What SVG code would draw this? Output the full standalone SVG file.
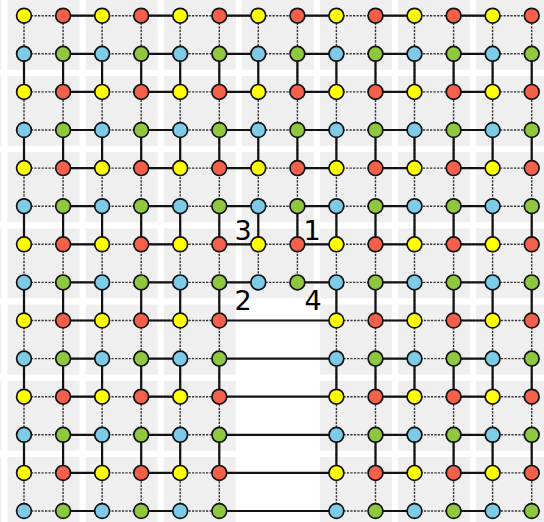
<svg xmlns="http://www.w3.org/2000/svg" width="544" height="522" viewBox="0 0 544 522">
<style>
circle{stroke:#111;stroke-width:1.7}
.y{fill:#ffff00}.r{fill:#f4604a}.g{fill:#8fc73e}.b{fill:#7ecbe8}
.dash{fill:none;stroke:#333;stroke-width:1.4;stroke-dasharray:2.2 1.3}
.solid{fill:none;stroke:#111;stroke-width:2.2}
.lbl{font-family:"DejaVu Sans","Liberation Sans",sans-serif;font-size:27px;fill:#000;text-anchor:middle}
</style>
<defs>
<pattern id="tiles" patternUnits="userSpaceOnUse" x="7.5" y="-0.25" width="78.1" height="76.2">
<rect x="0" y="0" width="72" height="70" fill="#efefef"/>
</pattern>
</defs>
<g id="background">
<rect x="0" y="0" width="544" height="522" fill="#ffffff"/>
<rect x="0" y="0" width="544" height="522" fill="url(#tiles)"/>
<rect x="241" y="303" width="74" height="219" fill="#ffffff"/>
</g>
<g id="connectors">
<path class="dash" d="M24 15.7H531.7M24 53.8H531.7M24 91.9H531.7M24 130H531.7M24 168.1H531.7M24 206.2H531.7M24 244.3H531.7M24 282.4H531.7M24 320.5H219.3M336.4 320.5H531.7M24 358.6H219.3M336.4 358.6H531.7M24 396.7H219.3M336.4 396.7H531.7M24 434.8H219.3M336.4 434.8H531.7M24 472.9H219.3M336.4 472.9H531.7M24 511H219.3M336.4 511H531.7"/>
<path class="dash" d="M24 15.7V511M63.1 15.7V511M102.1 15.7V511M141.2 15.7V511M180.2 15.7V511M219.3 15.7V511M258.3 15.7V282.4M297.4 15.7V282.4M336.4 15.7V511M375.5 15.7V511M414.5 15.7V511M453.6 15.7V511M492.6 15.7V511M531.7 15.7V511"/>
<path class="solid" d="M63.1 15.7H102.1M141.2 15.7H180.2M219.3 15.7H258.3M297.4 15.7H336.4M375.5 15.7H414.5M453.6 15.7H492.6
M63.1 53.8H102.1M141.2 53.8H180.2M219.3 53.8H258.3M297.4 53.8H336.4M375.5 53.8H414.5M453.6 53.8H492.6
M63.1 91.9H102.1M141.2 91.9H180.2M219.3 91.9H258.3M297.4 91.9H336.4M375.5 91.9H414.5M453.6 91.9H492.6
M63.1 130H102.1M141.2 130H180.2M219.3 130H258.3M297.4 130H336.4M375.5 130H414.5M453.6 130H492.6
M63.1 168.1H102.1M141.2 168.1H180.2M219.3 168.1H258.3M297.4 168.1H336.4M375.5 168.1H414.5M453.6 168.1H492.6
M63.1 206.2H102.1M141.2 206.2H180.2M219.3 206.2H258.3M297.4 206.2H336.4M375.5 206.2H414.5M453.6 206.2H492.6
M63.1 244.3H102.1M141.2 244.3H180.2M219.3 244.3H258.3M297.4 244.3H336.4M375.5 244.3H414.5M453.6 244.3H492.6
M63.1 282.4H102.1M141.2 282.4H180.2M219.3 282.4H258.3M297.4 282.4H336.4M375.5 282.4H414.5M453.6 282.4H492.6
M63.1 320.5H102.1M141.2 320.5H180.2M219.3 320.5H336.4M375.5 320.5H414.5M453.6 320.5H492.6
M63.1 358.6H102.1M141.2 358.6H180.2M219.3 358.6H336.4M375.5 358.6H414.5M453.6 358.6H492.6
M63.1 396.7H102.1M141.2 396.7H180.2M219.3 396.7H336.4M375.5 396.7H414.5M453.6 396.7H492.6
M63.1 434.8H102.1M141.2 434.8H180.2M219.3 434.8H336.4M375.5 434.8H414.5M453.6 434.8H492.6
M63.1 472.9H102.1M141.2 472.9H180.2M219.3 472.9H336.4M375.5 472.9H414.5M453.6 472.9H492.6
M63.1 511H102.1M141.2 511H180.2M219.3 511H336.4M375.5 511H414.5M453.6 511H492.6"/>
<path class="solid" d="M24 53.8V91.9M24 130V168.1M24 206.2V244.3M24 282.4V320.5M24 358.6V396.7M24 434.8V472.9
M63.1 53.8V91.9M63.1 130V168.1M63.1 206.2V244.3M63.1 282.4V320.5M63.1 358.6V396.7M63.1 434.8V472.9
M102.1 53.8V91.9M102.1 130V168.1M102.1 206.2V244.3M102.1 282.4V320.5M102.1 358.6V396.7M102.1 434.8V472.9
M141.2 53.8V91.9M141.2 130V168.1M141.2 206.2V244.3M141.2 282.4V320.5M141.2 358.6V396.7M141.2 434.8V472.9
M180.2 53.8V91.9M180.2 130V168.1M180.2 206.2V244.3M180.2 282.4V320.5M180.2 358.6V396.7M180.2 434.8V472.9
M219.3 53.8V91.9M219.3 130V168.1M219.3 206.2V244.3M219.3 282.4V320.5M219.3 358.6V396.7M219.3 434.8V472.9
M258.3 53.8V91.9M258.3 130V168.1M258.3 206.2V244.3
M297.4 53.8V91.9M297.4 130V168.1M297.4 206.2V244.3
M336.4 53.8V91.9M336.4 130V168.1M336.4 206.2V244.3M336.4 282.4V320.5M336.4 358.6V396.7M336.4 434.8V472.9
M375.5 53.8V91.9M375.5 130V168.1M375.5 206.2V244.3M375.5 282.4V320.5M375.5 358.6V396.7M375.5 434.8V472.9
M414.5 53.8V91.9M414.5 130V168.1M414.5 206.2V244.3M414.5 282.4V320.5M414.5 358.6V396.7M414.5 434.8V472.9
M453.6 53.8V91.9M453.6 130V168.1M453.6 206.2V244.3M453.6 282.4V320.5M453.6 358.6V396.7M453.6 434.8V472.9
M492.6 53.8V91.9M492.6 130V168.1M492.6 206.2V244.3M492.6 282.4V320.5M492.6 358.6V396.7M492.6 434.8V472.9
M531.7 53.8V91.9M531.7 130V168.1M531.7 206.2V244.3M531.7 282.4V320.5M531.7 358.6V396.7M531.7 434.8V472.9"/>
</g>
<g id="nodes">
<g id="n0-0"><circle class="y" cx="24" cy="15.7" r="7.4"/></g>
<g id="n0-1"><circle class="r" cx="63.1" cy="15.7" r="7.4"/></g>
<g id="n0-2"><circle class="y" cx="102.1" cy="15.7" r="7.4"/></g>
<g id="n0-3"><circle class="r" cx="141.2" cy="15.7" r="7.4"/></g>
<g id="n0-4"><circle class="y" cx="180.2" cy="15.7" r="7.4"/></g>
<g id="n0-5"><circle class="r" cx="219.3" cy="15.7" r="7.4"/></g>
<g id="n0-6"><circle class="y" cx="258.3" cy="15.7" r="7.4"/></g>
<g id="n0-7"><circle class="r" cx="297.4" cy="15.7" r="7.4"/></g>
<g id="n0-8"><circle class="y" cx="336.4" cy="15.7" r="7.4"/></g>
<g id="n0-9"><circle class="r" cx="375.5" cy="15.7" r="7.4"/></g>
<g id="n0-10"><circle class="y" cx="414.5" cy="15.7" r="7.4"/></g>
<g id="n0-11"><circle class="r" cx="453.6" cy="15.7" r="7.4"/></g>
<g id="n0-12"><circle class="y" cx="492.6" cy="15.7" r="7.4"/></g>
<g id="n0-13"><circle class="r" cx="531.7" cy="15.7" r="7.4"/></g>
<g id="n1-0"><circle class="b" cx="24" cy="53.8" r="7.4"/></g>
<g id="n1-1"><circle class="g" cx="63.1" cy="53.8" r="7.4"/></g>
<g id="n1-2"><circle class="b" cx="102.1" cy="53.8" r="7.4"/></g>
<g id="n1-3"><circle class="g" cx="141.2" cy="53.8" r="7.4"/></g>
<g id="n1-4"><circle class="b" cx="180.2" cy="53.8" r="7.4"/></g>
<g id="n1-5"><circle class="g" cx="219.3" cy="53.8" r="7.4"/></g>
<g id="n1-6"><circle class="b" cx="258.3" cy="53.8" r="7.4"/></g>
<g id="n1-7"><circle class="g" cx="297.4" cy="53.8" r="7.4"/></g>
<g id="n1-8"><circle class="b" cx="336.4" cy="53.8" r="7.4"/></g>
<g id="n1-9"><circle class="g" cx="375.5" cy="53.8" r="7.4"/></g>
<g id="n1-10"><circle class="b" cx="414.5" cy="53.8" r="7.4"/></g>
<g id="n1-11"><circle class="g" cx="453.6" cy="53.8" r="7.4"/></g>
<g id="n1-12"><circle class="b" cx="492.6" cy="53.8" r="7.4"/></g>
<g id="n1-13"><circle class="g" cx="531.7" cy="53.8" r="7.4"/></g>
<g id="n2-0"><circle class="y" cx="24" cy="91.9" r="7.4"/></g>
<g id="n2-1"><circle class="r" cx="63.1" cy="91.9" r="7.4"/></g>
<g id="n2-2"><circle class="y" cx="102.1" cy="91.9" r="7.4"/></g>
<g id="n2-3"><circle class="r" cx="141.2" cy="91.9" r="7.4"/></g>
<g id="n2-4"><circle class="y" cx="180.2" cy="91.9" r="7.4"/></g>
<g id="n2-5"><circle class="r" cx="219.3" cy="91.9" r="7.4"/></g>
<g id="n2-6"><circle class="y" cx="258.3" cy="91.9" r="7.4"/></g>
<g id="n2-7"><circle class="r" cx="297.4" cy="91.9" r="7.4"/></g>
<g id="n2-8"><circle class="y" cx="336.4" cy="91.9" r="7.4"/></g>
<g id="n2-9"><circle class="r" cx="375.5" cy="91.9" r="7.4"/></g>
<g id="n2-10"><circle class="y" cx="414.5" cy="91.9" r="7.4"/></g>
<g id="n2-11"><circle class="r" cx="453.6" cy="91.9" r="7.4"/></g>
<g id="n2-12"><circle class="y" cx="492.6" cy="91.9" r="7.4"/></g>
<g id="n2-13"><circle class="r" cx="531.7" cy="91.9" r="7.4"/></g>
<g id="n3-0"><circle class="b" cx="24" cy="130" r="7.4"/></g>
<g id="n3-1"><circle class="g" cx="63.1" cy="130" r="7.4"/></g>
<g id="n3-2"><circle class="b" cx="102.1" cy="130" r="7.4"/></g>
<g id="n3-3"><circle class="g" cx="141.2" cy="130" r="7.4"/></g>
<g id="n3-4"><circle class="b" cx="180.2" cy="130" r="7.4"/></g>
<g id="n3-5"><circle class="g" cx="219.3" cy="130" r="7.4"/></g>
<g id="n3-6"><circle class="b" cx="258.3" cy="130" r="7.4"/></g>
<g id="n3-7"><circle class="g" cx="297.4" cy="130" r="7.4"/></g>
<g id="n3-8"><circle class="b" cx="336.4" cy="130" r="7.4"/></g>
<g id="n3-9"><circle class="g" cx="375.5" cy="130" r="7.4"/></g>
<g id="n3-10"><circle class="b" cx="414.5" cy="130" r="7.4"/></g>
<g id="n3-11"><circle class="g" cx="453.6" cy="130" r="7.4"/></g>
<g id="n3-12"><circle class="b" cx="492.6" cy="130" r="7.4"/></g>
<g id="n3-13"><circle class="g" cx="531.7" cy="130" r="7.4"/></g>
<g id="n4-0"><circle class="y" cx="24" cy="168.1" r="7.4"/></g>
<g id="n4-1"><circle class="r" cx="63.1" cy="168.1" r="7.4"/></g>
<g id="n4-2"><circle class="y" cx="102.1" cy="168.1" r="7.4"/></g>
<g id="n4-3"><circle class="r" cx="141.2" cy="168.1" r="7.4"/></g>
<g id="n4-4"><circle class="y" cx="180.2" cy="168.1" r="7.4"/></g>
<g id="n4-5"><circle class="r" cx="219.3" cy="168.1" r="7.4"/></g>
<g id="n4-6"><circle class="y" cx="258.3" cy="168.1" r="7.4"/></g>
<g id="n4-7"><circle class="r" cx="297.4" cy="168.1" r="7.4"/></g>
<g id="n4-8"><circle class="y" cx="336.4" cy="168.1" r="7.4"/></g>
<g id="n4-9"><circle class="r" cx="375.5" cy="168.1" r="7.4"/></g>
<g id="n4-10"><circle class="y" cx="414.5" cy="168.1" r="7.4"/></g>
<g id="n4-11"><circle class="r" cx="453.6" cy="168.1" r="7.4"/></g>
<g id="n4-12"><circle class="y" cx="492.6" cy="168.1" r="7.4"/></g>
<g id="n4-13"><circle class="r" cx="531.7" cy="168.1" r="7.4"/></g>
<g id="n5-0"><circle class="b" cx="24" cy="206.2" r="7.4"/></g>
<g id="n5-1"><circle class="g" cx="63.1" cy="206.2" r="7.4"/></g>
<g id="n5-2"><circle class="b" cx="102.1" cy="206.2" r="7.4"/></g>
<g id="n5-3"><circle class="g" cx="141.2" cy="206.2" r="7.4"/></g>
<g id="n5-4"><circle class="b" cx="180.2" cy="206.2" r="7.4"/></g>
<g id="n5-5"><circle class="g" cx="219.3" cy="206.2" r="7.4"/></g>
<g id="n5-6"><circle class="b" cx="258.3" cy="206.2" r="7.4"/></g>
<g id="n5-7"><circle class="g" cx="297.4" cy="206.2" r="7.4"/></g>
<g id="n5-8"><circle class="b" cx="336.4" cy="206.2" r="7.4"/></g>
<g id="n5-9"><circle class="g" cx="375.5" cy="206.2" r="7.4"/></g>
<g id="n5-10"><circle class="b" cx="414.5" cy="206.2" r="7.4"/></g>
<g id="n5-11"><circle class="g" cx="453.6" cy="206.2" r="7.4"/></g>
<g id="n5-12"><circle class="b" cx="492.6" cy="206.2" r="7.4"/></g>
<g id="n5-13"><circle class="g" cx="531.7" cy="206.2" r="7.4"/></g>
<g id="n6-0"><circle class="y" cx="24" cy="244.3" r="7.4"/></g>
<g id="n6-1"><circle class="r" cx="63.1" cy="244.3" r="7.4"/></g>
<g id="n6-2"><circle class="y" cx="102.1" cy="244.3" r="7.4"/></g>
<g id="n6-3"><circle class="r" cx="141.2" cy="244.3" r="7.4"/></g>
<g id="n6-4"><circle class="y" cx="180.2" cy="244.3" r="7.4"/></g>
<g id="n6-5"><circle class="r" cx="219.3" cy="244.3" r="7.4"/></g>
<g id="n6-6"><circle class="y" cx="258.3" cy="244.3" r="7.4"/></g>
<g id="n6-7"><circle class="r" cx="297.4" cy="244.3" r="7.4"/></g>
<g id="n6-8"><circle class="y" cx="336.4" cy="244.3" r="7.4"/></g>
<g id="n6-9"><circle class="r" cx="375.5" cy="244.3" r="7.4"/></g>
<g id="n6-10"><circle class="y" cx="414.5" cy="244.3" r="7.4"/></g>
<g id="n6-11"><circle class="r" cx="453.6" cy="244.3" r="7.4"/></g>
<g id="n6-12"><circle class="y" cx="492.6" cy="244.3" r="7.4"/></g>
<g id="n6-13"><circle class="r" cx="531.7" cy="244.3" r="7.4"/></g>
<g id="n7-0"><circle class="b" cx="24" cy="282.4" r="7.4"/></g>
<g id="n7-1"><circle class="g" cx="63.1" cy="282.4" r="7.4"/></g>
<g id="n7-2"><circle class="b" cx="102.1" cy="282.4" r="7.4"/></g>
<g id="n7-3"><circle class="g" cx="141.2" cy="282.4" r="7.4"/></g>
<g id="n7-4"><circle class="b" cx="180.2" cy="282.4" r="7.4"/></g>
<g id="n7-5"><circle class="g" cx="219.3" cy="282.4" r="7.4"/></g>
<g id="n7-6"><circle class="b" cx="258.3" cy="282.4" r="7.4"/></g>
<g id="n7-7"><circle class="g" cx="297.4" cy="282.4" r="7.4"/></g>
<g id="n7-8"><circle class="b" cx="336.4" cy="282.4" r="7.4"/></g>
<g id="n7-9"><circle class="g" cx="375.5" cy="282.4" r="7.4"/></g>
<g id="n7-10"><circle class="b" cx="414.5" cy="282.4" r="7.4"/></g>
<g id="n7-11"><circle class="g" cx="453.6" cy="282.4" r="7.4"/></g>
<g id="n7-12"><circle class="b" cx="492.6" cy="282.4" r="7.4"/></g>
<g id="n7-13"><circle class="g" cx="531.7" cy="282.4" r="7.4"/></g>
<g id="n8-0"><circle class="y" cx="24" cy="320.5" r="7.4"/></g>
<g id="n8-1"><circle class="r" cx="63.1" cy="320.5" r="7.4"/></g>
<g id="n8-2"><circle class="y" cx="102.1" cy="320.5" r="7.4"/></g>
<g id="n8-3"><circle class="r" cx="141.2" cy="320.5" r="7.4"/></g>
<g id="n8-4"><circle class="y" cx="180.2" cy="320.5" r="7.4"/></g>
<g id="n8-5"><circle class="r" cx="219.3" cy="320.5" r="7.4"/></g>
<g id="n8-8"><circle class="y" cx="336.4" cy="320.5" r="7.4"/></g>
<g id="n8-9"><circle class="r" cx="375.5" cy="320.5" r="7.4"/></g>
<g id="n8-10"><circle class="y" cx="414.5" cy="320.5" r="7.4"/></g>
<g id="n8-11"><circle class="r" cx="453.6" cy="320.5" r="7.4"/></g>
<g id="n8-12"><circle class="y" cx="492.6" cy="320.5" r="7.4"/></g>
<g id="n8-13"><circle class="r" cx="531.7" cy="320.5" r="7.4"/></g>
<g id="n9-0"><circle class="b" cx="24" cy="358.6" r="7.4"/></g>
<g id="n9-1"><circle class="g" cx="63.1" cy="358.6" r="7.4"/></g>
<g id="n9-2"><circle class="b" cx="102.1" cy="358.6" r="7.4"/></g>
<g id="n9-3"><circle class="g" cx="141.2" cy="358.6" r="7.4"/></g>
<g id="n9-4"><circle class="b" cx="180.2" cy="358.6" r="7.4"/></g>
<g id="n9-5"><circle class="g" cx="219.3" cy="358.6" r="7.4"/></g>
<g id="n9-8"><circle class="b" cx="336.4" cy="358.6" r="7.4"/></g>
<g id="n9-9"><circle class="g" cx="375.5" cy="358.6" r="7.4"/></g>
<g id="n9-10"><circle class="b" cx="414.5" cy="358.6" r="7.4"/></g>
<g id="n9-11"><circle class="g" cx="453.6" cy="358.6" r="7.4"/></g>
<g id="n9-12"><circle class="b" cx="492.6" cy="358.6" r="7.4"/></g>
<g id="n9-13"><circle class="g" cx="531.7" cy="358.6" r="7.4"/></g>
<g id="n10-0"><circle class="y" cx="24" cy="396.7" r="7.4"/></g>
<g id="n10-1"><circle class="r" cx="63.1" cy="396.7" r="7.4"/></g>
<g id="n10-2"><circle class="y" cx="102.1" cy="396.7" r="7.4"/></g>
<g id="n10-3"><circle class="r" cx="141.2" cy="396.7" r="7.4"/></g>
<g id="n10-4"><circle class="y" cx="180.2" cy="396.7" r="7.4"/></g>
<g id="n10-5"><circle class="r" cx="219.3" cy="396.7" r="7.4"/></g>
<g id="n10-8"><circle class="y" cx="336.4" cy="396.7" r="7.4"/></g>
<g id="n10-9"><circle class="r" cx="375.5" cy="396.7" r="7.4"/></g>
<g id="n10-10"><circle class="y" cx="414.5" cy="396.7" r="7.4"/></g>
<g id="n10-11"><circle class="r" cx="453.6" cy="396.7" r="7.4"/></g>
<g id="n10-12"><circle class="y" cx="492.6" cy="396.7" r="7.4"/></g>
<g id="n10-13"><circle class="r" cx="531.7" cy="396.7" r="7.4"/></g>
<g id="n11-0"><circle class="b" cx="24" cy="434.8" r="7.4"/></g>
<g id="n11-1"><circle class="g" cx="63.1" cy="434.8" r="7.4"/></g>
<g id="n11-2"><circle class="b" cx="102.1" cy="434.8" r="7.4"/></g>
<g id="n11-3"><circle class="g" cx="141.2" cy="434.8" r="7.4"/></g>
<g id="n11-4"><circle class="b" cx="180.2" cy="434.8" r="7.4"/></g>
<g id="n11-5"><circle class="g" cx="219.3" cy="434.8" r="7.4"/></g>
<g id="n11-8"><circle class="b" cx="336.4" cy="434.8" r="7.4"/></g>
<g id="n11-9"><circle class="g" cx="375.5" cy="434.8" r="7.4"/></g>
<g id="n11-10"><circle class="b" cx="414.5" cy="434.8" r="7.4"/></g>
<g id="n11-11"><circle class="g" cx="453.6" cy="434.8" r="7.4"/></g>
<g id="n11-12"><circle class="b" cx="492.6" cy="434.8" r="7.4"/></g>
<g id="n11-13"><circle class="g" cx="531.7" cy="434.8" r="7.4"/></g>
<g id="n12-0"><circle class="y" cx="24" cy="472.9" r="7.4"/></g>
<g id="n12-1"><circle class="r" cx="63.1" cy="472.9" r="7.4"/></g>
<g id="n12-2"><circle class="y" cx="102.1" cy="472.9" r="7.4"/></g>
<g id="n12-3"><circle class="r" cx="141.2" cy="472.9" r="7.4"/></g>
<g id="n12-4"><circle class="y" cx="180.2" cy="472.9" r="7.4"/></g>
<g id="n12-5"><circle class="r" cx="219.3" cy="472.9" r="7.4"/></g>
<g id="n12-8"><circle class="y" cx="336.4" cy="472.9" r="7.4"/></g>
<g id="n12-9"><circle class="r" cx="375.5" cy="472.9" r="7.4"/></g>
<g id="n12-10"><circle class="y" cx="414.5" cy="472.9" r="7.4"/></g>
<g id="n12-11"><circle class="r" cx="453.6" cy="472.9" r="7.4"/></g>
<g id="n12-12"><circle class="y" cx="492.6" cy="472.9" r="7.4"/></g>
<g id="n12-13"><circle class="r" cx="531.7" cy="472.9" r="7.4"/></g>
<g id="n13-0"><circle class="b" cx="24" cy="511" r="7.4"/></g>
<g id="n13-1"><circle class="g" cx="63.1" cy="511" r="7.4"/></g>
<g id="n13-2"><circle class="b" cx="102.1" cy="511" r="7.4"/></g>
<g id="n13-3"><circle class="g" cx="141.2" cy="511" r="7.4"/></g>
<g id="n13-4"><circle class="b" cx="180.2" cy="511" r="7.4"/></g>
<g id="n13-5"><circle class="g" cx="219.3" cy="511" r="7.4"/></g>
<g id="n13-8"><circle class="b" cx="336.4" cy="511" r="7.4"/></g>
<g id="n13-9"><circle class="g" cx="375.5" cy="511" r="7.4"/></g>
<g id="n13-10"><circle class="b" cx="414.5" cy="511" r="7.4"/></g>
<g id="n13-11"><circle class="g" cx="453.6" cy="511" r="7.4"/></g>
<g id="n13-12"><circle class="b" cx="492.6" cy="511" r="7.4"/></g>
<g id="n13-13"><circle class="g" cx="531.7" cy="511" r="7.4"/></g>
</g>
<g id="labels">
<text class="lbl" x="243" y="240">3</text>
<text class="lbl" x="312" y="240">1</text>
<text class="lbl" x="243" y="310">2</text>
<text class="lbl" x="313" y="310">4</text>
</g>
</svg>
